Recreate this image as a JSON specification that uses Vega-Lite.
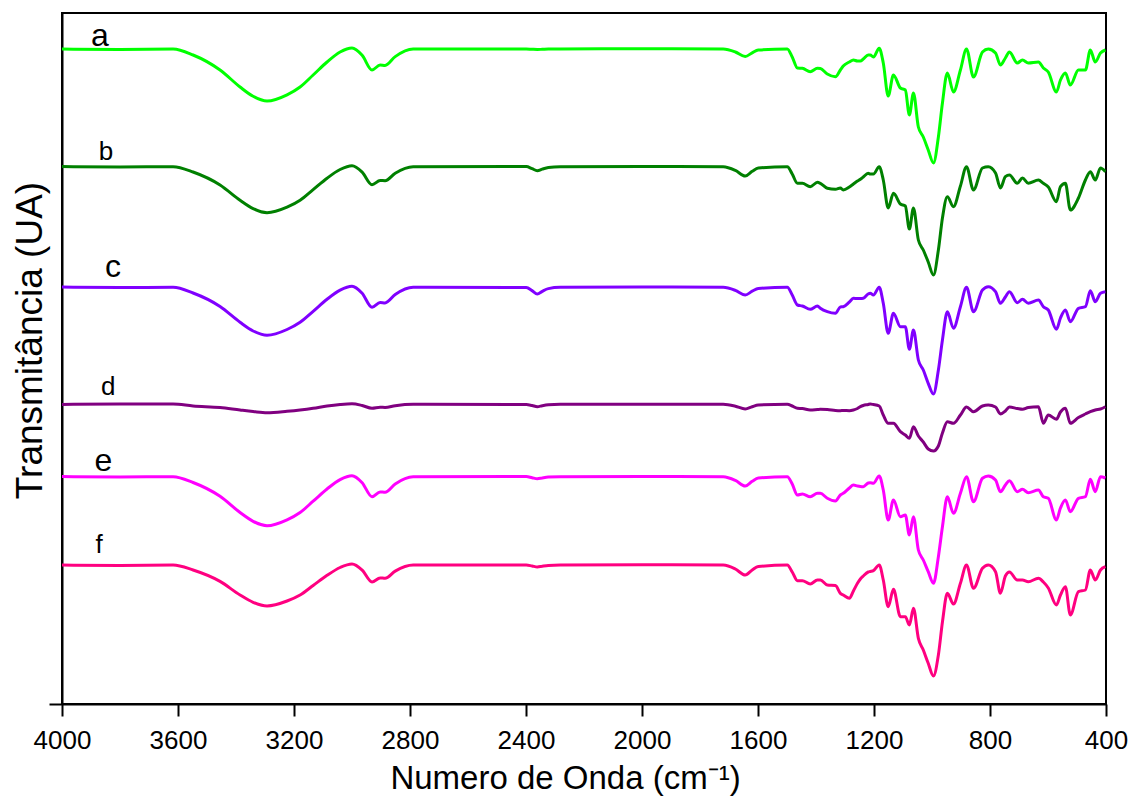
{
  "$schema": "https://vega.github.io/schema/vega-lite/v6.json",
  "width": 1044,
  "height": 691,
  "autosize": {"type": "none"},
  "padding": {"left": 62, "top": 13, "right": 24, "bottom": 93},
  "background": "white",
  "config": {
    "view": {"stroke": "black", "strokeWidth": 2},
    "font": "Liberation Sans",
    "axis": {"grid": false, "domainColor": "black", "domainWidth": 2, "tickColor": "black", "tickWidth": 2, "labelColor": "black", "titleColor": "black", "labelFont": "Liberation Sans", "titleFont": "Liberation Sans", "titleFontWeight": "normal", "labelFlush": false, "labelOverlap": false}
  },
  "datasets": {
    "spectra": [
      {"w":4000,"a":655,"b":537.5,"c":417,"d":299.5,"e":227.5,"f":139},
      {"w":3800,"a":654.5,"b":537,"c":416.5,"d":300,"e":227,"f":138.5},
      {"w":3617,"a":655,"b":537.3,"c":416.7,"d":300,"e":227.3,"f":139},
      {"w":3548,"a":649,"b":532,"c":411,"d":298,"e":221.5,"f":134},
      {"w":3455,"a":634,"b":519,"c":397.5,"d":296.5,"e":207.7,"f":122.6},
      {"w":3386,"a":617,"b":503.7,"c":381.7,"d":294,"e":191.5,"f":109},
      {"w":3341,"a":607.7,"b":495.4,"c":373,"d":292.5,"e":182.7,"f":101.7},
      {"w":3293,"a":603,"b":491.3,"c":368.7,"d":291.3,"e":178.3,"f":98},
      {"w":3224,"a":609.2,"b":496.8,"c":374.5,"d":292.7,"e":184.2,"f":103},
      {"w":3179,"a":617,"b":503.7,"c":381.7,"d":294,"e":191.5,"f":109},
      {"w":3134,"a":629,"b":514.3,"c":392.7,"d":295.7,"e":202.8,"f":118.5},
      {"w":3086,"a":642,"b":525.8,"c":404.7,"d":298,"e":215,"f":128.7},
      {"w":3041,"a":652,"b":534.5,"c":413.8,"d":299.5,"e":224.4,"f":136.5},
      {"w":3000,"a":656,"b":538.3,"c":417.7,"d":300.2,"e":228.3,"f":140},
      {"w":2965,"a":648.7,"b":531.9,"c":410.7,"d":298.5,"e":221.3,"f":133.9},
      {"w":2931,"a":634,"b":519.3,"c":396.7,"d":295.7,"e":207.3,"f":122},
      {"w":2903,"a":639,"b":523.6,"c":401.5,"d":296.7,"e":212.1,"f":126.1},
      {"w":2886,"a":638.6,"b":523.3,"c":401.1,"d":296.6,"e":211.7,"f":125.7},
      {"w":2851,"a":647.4,"b":530.8,"c":409.5,"d":298.3,"e":220.1,"f":132.9},
      {"w":2789,"a":655,"b":537.3,"c":416.7,"d":299.7,"e":227.3,"f":139},
      {"w":2399,"a":655,"b":537.5,"c":416.5,"d":299.5,"e":227.5,"f":139},
      {"w":2379,"a":654.7,"b":535.3,"c":413.4,"d":298.5,"e":226.3,"f":138},
      {"w":2361,"a":654.5,"b":533.3,"c":410,"d":297.3,"e":225.3,"f":137},
      {"w":2344,"a":654.7,"b":534.9,"c":412.7,"d":298.3,"e":226.1,"f":137.8},
      {"w":2323,"a":655,"b":536.5,"c":415.4,"d":299.2,"e":226.9,"f":138.6},
      {"w":2282,"a":655,"b":537.3,"c":416.7,"d":299.7,"e":227.3,"f":139},
      {"w":2000,"a":655.3,"b":537.5,"c":417,"d":299.7,"e":227.5,"f":139.3},
      {"w":1720,"a":655,"b":537.3,"c":416.7,"d":299.7,"e":227.3,"f":139},
      {"w":1678,"a":652,"b":533.6,"c":413.6,"d":297.8,"e":223.6,"f":135},
      {"w":1644,"a":647.5,"b":528,"c":409,"d":295,"e":218,"f":129},
      {"w":1620,"a":651.2,"b":532.7,"c":412.8,"d":297.3,"e":222.7,"f":134},
      {"w":1599,"a":654,"b":536,"c":415.5,"d":299,"e":226,"f":137.5},
      {"w":1499,"a":655,"b":537.3,"c":416.7,"d":299.7,"e":227.3,"f":139},
      {"w":1482,"a":647,"b":530,"c":409,"d":298,"e":220,"f":132},
      {"w":1464,"a":636,"b":520.7,"c":399,"d":295.7,"e":209,"f":123.3},
      {"w":1447,"a":635.7,"b":520.7,"c":398,"d":295.5,"e":210,"f":123.3},
      {"w":1420,"a":632.3,"b":517.3,"c":394.7,"d":294,"e":207.3,"f":120},
      {"w":1395,"a":635.7,"b":521.7,"c":398,"d":294.5,"e":210.7,"f":124},
      {"w":1385,"a":635.5,"b":520.7,"c":395.7,"d":294.7,"e":210.7,"f":124},
      {"w":1361,"a":630,"b":515.7,"c":392.3,"d":294.5,"e":205.7,"f":119},
      {"w":1333,"a":627.3,"b":514.7,"c":390.7,"d":293.5,"e":203,"f":118.5},
      {"w":1316,"a":634,"b":516,"c":397,"d":293.3,"e":209,"f":110.7},
      {"w":1306,"a":638,"b":514,"c":397.3,"d":293.5,"e":210.7,"f":109},
      {"w":1285,"a":642,"b":517,"c":402,"d":293.3,"e":216,"f":105.7},
      {"w":1271,"a":644,"b":520,"c":405.7,"d":294,"e":219,"f":113},
      {"w":1257,"a":643,"b":523,"c":405.5,"d":295.5,"e":218,"f":120.7},
      {"w":1247,"a":643,"b":524.7,"c":405.5,"d":297.3,"e":217.5,"f":125},
      {"w":1237,"a":645,"b":527,"c":405.7,"d":298.5,"e":217.3,"f":128},
      {"w":1220,"a":649,"b":530.7,"c":410,"d":299.5,"e":221,"f":132},
      {"w":1213,"a":649,"b":530,"c":410.7,"d":300,"e":221.3,"f":132.5},
      {"w":1202,"a":647,"b":530,"c":409,"d":299.5,"e":220.7,"f":133.3},
      {"w":1182,"a":655.7,"b":537.3,"c":416.7,"d":298,"e":228,"f":139},
      {"w":1168,"a":641,"b":524,"c":400.7,"d":289,"e":214,"f":124},
      {"w":1151,"a":608,"b":496,"c":370.7,"d":280.7,"e":184,"f":97.3},
      {"w":1133,"a":629,"b":510.7,"c":390.7,"d":280.7,"e":204,"f":114.7},
      {"w":1109,"a":616,"b":500,"c":377.3,"d":272.3,"e":187.3,"f":87.3},
      {"w":1092,"a":614,"b":498,"c":377.3,"d":269,"e":189,"f":87.3},
      {"w":1078,"a":589,"b":475,"c":354.7,"d":265.7,"e":169,"f":79},
      {"w":1064,"a":611,"b":496,"c":374,"d":277.3,"e":187.3,"f":95.7},
      {"w":1047,"a":577,"b":464,"c":344,"d":268,"e":154,"f":65.7},
      {"w":1030,"a":567,"b":454,"c":334,"d":262,"e":144,"f":54},
      {"w":1013,"a":554,"b":442,"c":320.7,"d":255,"e":132.3,"f":40.7},
      {"w":995,"a":541,"b":429,"c":310,"d":253,"e":120.7,"f":28},
      {"w":978,"a":567,"b":454,"c":334,"d":258,"e":147.3,"f":49},
      {"w":964,"a":601,"b":486,"c":364,"d":271,"e":177.3,"f":82},
      {"w":947,"a":631,"b":507.3,"c":392.3,"d":282.3,"e":207.3,"f":110.7},
      {"w":926,"a":612,"b":497.3,"c":375.7,"d":280.7,"e":190.7,"f":100},
      {"w":902,"a":634,"b":518,"c":397.3,"d":289,"e":210.7,"f":120.7},
      {"w":881,"a":655,"b":537.3,"c":416.7,"d":297,"e":227.3,"f":139},
      {"w":857,"a":627,"b":514,"c":392.3,"d":292.3,"e":202.3,"f":115.7},
      {"w":826,"a":652,"b":536,"c":414,"d":298,"e":225.7,"f":135.7},
      {"w":806,"a":655,"b":537.3,"c":417.3,"d":299,"e":228,"f":139},
      {"w":781,"a":651,"b":531,"c":412.3,"d":297,"e":224,"f":132.3},
      {"w":764,"a":639,"b":516,"c":400.7,"d":290,"e":212.3,"f":110.7},
      {"w":747,"a":646,"b":527.3,"c":407,"d":293,"e":219,"f":128},
      {"w":733,"a":652,"b":529,"c":412.3,"d":297,"e":223.3,"f":132},
      {"w":706,"a":641,"b":520.7,"c":401.3,"d":295.5,"e":212.3,"f":124},
      {"w":688,"a":644,"b":526,"c":404.7,"d":294.7,"e":214.7,"f":124},
      {"w":668,"a":641,"b":520.7,"c":400.7,"d":296.5,"e":211.3,"f":122.3},
      {"w":633,"a":642,"b":524,"c":404,"d":297.3,"e":214,"f":125.7},
      {"w":616,"a":636,"b":520.7,"c":397.3,"d":280.7,"e":207.3,"f":122},
      {"w":599,"a":632,"b":517,"c":394,"d":289,"e":205.7,"f":116},
      {"w":571,"a":612,"b":502.3,"c":374.7,"d":284.7,"e":184,"f":99},
      {"w":557,"a":624,"b":517.3,"c":386,"d":292,"e":196,"f":109},
      {"w":540,"a":631,"b":520.7,"c":394,"d":295.7,"e":204,"f":117.3},
      {"w":523,"a":619,"b":494,"c":382.3,"d":280.7,"e":192.3,"f":89},
      {"w":495,"a":634,"b":506,"c":395.7,"d":286.5,"e":205.7,"f":112.3},
      {"w":471,"a":634,"b":524,"c":397.3,"d":290,"e":207.3,"f":114},
      {"w":454,"a":654,"b":532.3,"c":413.3,"d":292.3,"e":224.7,"f":134},
      {"w":437,"a":642,"b":524,"c":402.3,"d":294,"e":212.3,"f":124},
      {"w":419,"a":651,"b":536,"c":410.7,"d":295,"e":227.3,"f":134},
      {"w":402,"a":654,"b":532.3,"c":412.3,"d":297.3,"e":226,"f":137.3}
    ],
    "labels": [
      {"amostra":"a","w":3869,"t":658},
      {"amostra":"b","w":3848,"t":544},
      {"amostra":"c","w":3824,"t":427},
      {"amostra":"d","w":3841,"t":309},
      {"amostra":"e","w":3857,"t":233},
      {"amostra":"f","w":3872,"t":151}
    ]
  },
  "encoding": {
    "x": {
      "field": "w", "type": "quantitative", "title": "Numero de Onda (cm⁻¹)",
      "scale": {"domain": [400, 4000], "reverse": true, "nice": false, "zero": false},
      "axis": {"values": [4000, 3600, 3200, 2800, 2400, 2000, 1600, 1200, 800, 400], "format": "d", "tickSize": 12, "labelFontSize": 26, "labelPadding": 11, "titleFontSize": 33, "titleX": 503, "titleY": 84, "titleBaseline": "alphabetic", "titleAlign": "center"}
    },
    "y": {
      "field": "t", "type": "quantitative", "title": "Transmitância (UA)",
      "scale": {"domain": [0, 691], "nice": false, "zero": false},
      "axis": {"values": [0], "labels": false, "tickSize": 13, "titleFontSize": 37, "titleX": -21, "titleY": 327, "titleAngle": -90, "titleBaseline": "alphabetic", "titleAlign": "center"}
    }
  },
  "layer": [
    {
      "data": {"name": "spectra"},
      "transform": [{"fold": ["a", "b", "c", "d", "e", "f"], "as": ["amostra", "t"]}],
      "mark": {"type": "line", "strokeWidth": 3, "clip": true, "interpolate": "monotone"},
      "encoding": {
        "color": {"field": "amostra", "type": "nominal", "scale": {"domain": ["a", "b", "c", "d", "e", "f"], "range": ["#00ff00", "#008000", "#8000ff", "#800080", "#ff00ff", "#ff0080"]}, "legend": null}
      }
    },
    {
      "data": {"name": "labels"},
      "transform": [{"filter": {"field": "amostra", "oneOf": ["a", "c", "e"]}}],
      "mark": {"type": "text", "fontSize": 32, "align": "center", "baseline": "alphabetic", "color": "black", "font": "Liberation Sans"},
      "encoding": {"text": {"field": "amostra", "type": "nominal"}}
    },
    {
      "data": {"name": "labels"},
      "transform": [{"filter": {"field": "amostra", "oneOf": ["b", "d", "f"]}}],
      "mark": {"type": "text", "fontSize": 26, "align": "center", "baseline": "alphabetic", "color": "black", "font": "Liberation Sans"},
      "encoding": {"text": {"field": "amostra", "type": "nominal"}}
    }
  ]
}
